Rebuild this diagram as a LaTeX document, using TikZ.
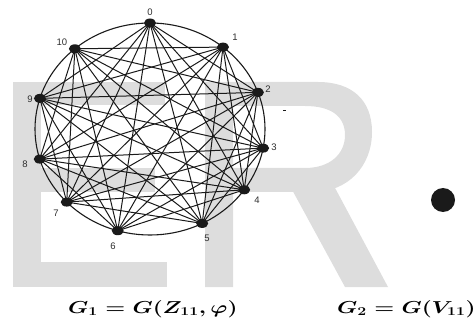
\documentclass[tikz,border=0pt]{standalone}
\usepackage{fontspec}
\usepackage{amsmath}
\usepackage{graphicx}
\newfontfamily\labfont{Liberation Sans}
\usetikzlibrary{shapes.geometric}
\definecolor{wm}{HTML}{DDDDDD}
\definecolor{ink}{HTML}{1A1A1A}
\definecolor{labc}{HTML}{2E2E2E}
\newcommand\gonecap{\scalebox{1.32}[1.0]{$\boldsymbol{G_1 = G(Z_{11},\varphi)}$}}
\newcommand\gtwocap{\scalebox{1.32}[1.0]{$\boldsymbol{G_2 = G(V_{11})}$}}
\tikzset{
  wmfill/.style={fill=wm},
  vdot/.style={ellipse, fill=ink, inner sep=0pt, minimum width=12pt, minimum height=9pt},
  vlab/.style={font=\labfont\fontsize{9.5}{10}\selectfont, text=labc, inner sep=0pt},
  chord/.style={draw=ink, line width=1pt},
  rim/.style={draw=ink, line width=1.1pt},
  captext/.style={font=\fontsize{17}{19}\selectfont, inner sep=0pt, anchor=base west}
}
\begin{document}
\begin{tikzpicture}[x=1pt,y=-1pt]
\useasboundingbox (0,0) rectangle (473,320);
% watermark "ER"
\fill[wmfill] (13,82) rectangle (41,287);
\fill[wmfill] (13,82) rectangle (165,105);
\fill[wmfill] (13,168) rectangle (155,192);
\fill[wmfill] (13,262) rectangle (167,287);
\fill[wmfill, even odd rule] (205,82) -- (318,82) .. controls (352,82) and (372,100) .. (372,132) .. controls (372,166) and (348,192) .. (313,192) -- (233,192) -- (233,287) -- (205,287) -- cycle
  (233,106) -- (305,106) .. controls (332,106) and (345,117) .. (345,135) .. controls (345,154) and (330,168) .. (305,168) -- (233,168) -- cycle;
\fill[wmfill] (290,186) -- (334,186) -- (388,287) -- (345,287) -- cycle;
% rim
\draw[rim] (150,129) ellipse [x radius=115pt, y radius=106pt];
% vertices
\foreach \i/\t in {0/90,1/50.6,2/20.2,3/-10.4,4/-35,5/-63,6/-106.3,7/-136.4,8/-163.5,9/163.2,10/130.8}
  \coordinate (c\i) at ({150+115*cos(\t)},{129-106*sin(\t)});
\foreach \i in {0,...,10}{
  \foreach \j in {0,...,10}{
    \pgfmathtruncatemacro{\d}{\j-\i}
    \ifnum\d>1 \ifnum\d<10 \draw[chord] (c\i) -- (c\j); \fi\fi
  }
}
\foreach \i in {0,...,10} \node[vdot] (v\i) at (c\i) {};
% labels
\node[vlab] (l0) at (150,12) {0};
\node[vlab] (l1) at (235,37) {1};
\node[vlab] (l2) at (268,89) {2};
\node[vlab] (l3) at (274,147) {3};
\node[vlab] (l4) at (257,200) {4};
\node[vlab] (l5) at (207,238) {5};
\node[vlab] (l6) at (113,246) {6};
\node[vlab] (l7) at (56,213) {7};
\node[vlab] (l8) at (25,164) {8};
\node[vlab] (l9) at (30,99) {9};
\node[vlab] (l10) at (62,42) {10};
% small mark
\fill[ink] (283,110) rectangle (285.5,111.2);
% big dot
\fill[ink] (443,200) circle [radius=12pt];
% captions
\node[captext] (g1) at (68,313) {\gonecap};
\node[captext] (g2) at (337,313) {\gtwocap};
\end{tikzpicture}
\end{document}
